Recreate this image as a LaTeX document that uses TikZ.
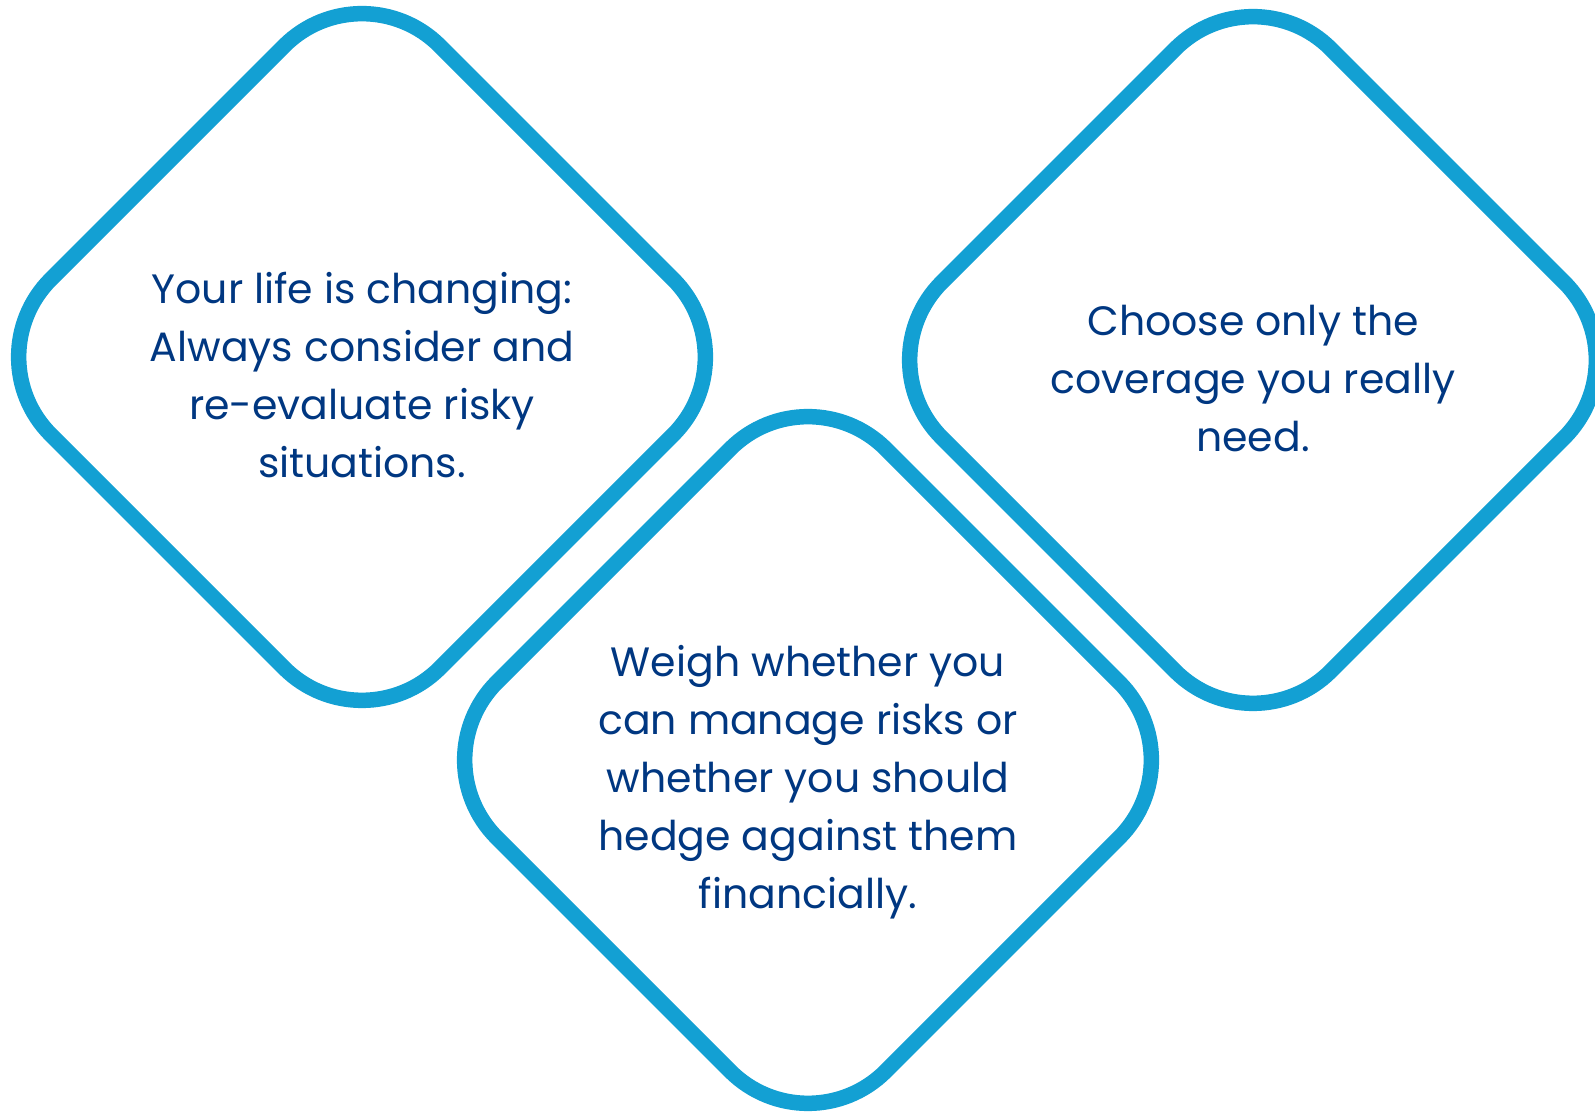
\documentclass[tikz,border=0pt]{standalone}
\usepackage{fontspec}
\setmainfont{Poppins}
\usepackage{tikz}
\definecolor{Sky}{RGB}{19,160,211}
\definecolor{Navy}{RGB}{0,55,129}
\tikzset{
  tipbox/.style={draw=Sky, line width=15.5pt, rounded corners=110pt, rotate=45,
    minimum width=550pt, minimum height=550pt, inner sep=0pt},
  tiptext/.style={text=Navy, align=center, inner sep=0pt,
    font=\fontsize{41}{58}\selectfont}
}

\begin{document}
\begin{tikzpicture}[x=1pt, y=1pt]
        \useasboundingbox (0,0) rectangle (1595,1111);
        % rounded diamonds
        \node[tipbox] (life) at (362,754) {};
        \node[tipbox] (hedge) at (808,351) {};
        \node[tipbox] (cover) at (1253,751) {};

        % texts
        \node[tiptext, yshift=-18pt] (lifetext) at (life) {Your life is changing:\\Always consider and\\re-evaluate risky\\situations.};
        \node[tiptext, yshift=-22pt] (hedgetext) at (hedge) {Weigh whether you\\can manage risks or\\whether you should\\hedge against them\\financially.};
        \node[tiptext, yshift=-19pt] (covertext) at (cover) {Choose only the\\coverage you really\\need.};
\end{tikzpicture}
\end{document}
